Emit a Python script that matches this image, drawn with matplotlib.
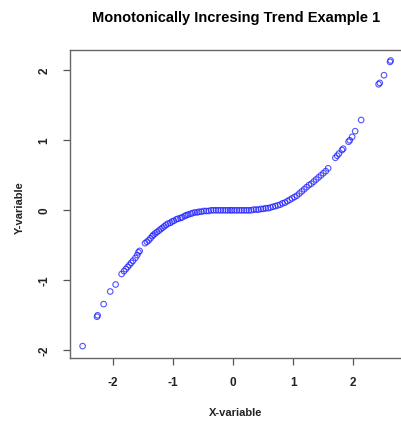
import matplotlib
matplotlib.use("Agg")
import matplotlib.pyplot as plt

# values
x_vals = [-2.51, -2.27, -2.26, -2.16, -2.05, -1.96, -1.86, -1.82, -1.79, -1.76,
          -1.73, -1.70, -1.67, -1.63, -1.60, -1.58, -1.56, -1.47, -1.44, -1.41,
          -1.38, -1.35, -1.33, -1.30, -1.27, -1.24, -1.21, -1.18, -1.15, -1.12,
          -1.09, -1.05, -1.02, -0.99, -0.95, -0.92, -0.88, -0.85, -0.81, -0.78,
          -0.75, -0.71, -0.68, -0.64, -0.60, -0.57, -0.53, -0.49, -0.45, -0.41,
          -0.37, -0.33, -0.29, -0.25, -0.21, -0.17, -0.13, -0.09, -0.05, -0.02,
          0.02, 0.06, 0.10, 0.14, 0.18, 0.22, 0.26, 0.30, 0.34, 0.38,
          0.42, 0.46, 0.50, 0.54, 0.58, 0.62, 0.66, 0.70, 0.74, 0.78,
          0.82, 0.86, 0.90, 0.94, 0.98, 1.02, 1.06, 1.10, 1.14, 1.18,
          1.22, 1.26, 1.30, 1.34, 1.38, 1.42, 1.46, 1.50, 1.54, 1.58,
          1.70, 1.73, 1.76, 1.81, 1.83, 1.92, 1.94, 1.98, 2.03, 2.13,
          2.42, 2.44, 2.51, 2.61, 2.62]
y_vals = [-1.94, -1.52, -1.50, -1.34, -1.16, -1.06, -0.91, -0.87, -0.84, -0.81,
          -0.78, -0.75, -0.72, -0.68, -0.64, -0.60, -0.58, -0.47, -0.45, -0.43,
          -0.40, -0.37, -0.35, -0.33, -0.31, -0.29, -0.27, -0.25, -0.23, -0.21,
          -0.19, -0.18, -0.16, -0.15, -0.13, -0.12, -0.11, -0.10, -0.08, -0.07,
          -0.06, -0.05, -0.04, -0.03, -0.03, -0.02, -0.02, -0.01, -0.01, -0.01,
          0.00, 0.00, 0.00, 0.00, 0.00, 0.00, 0.00, 0.00, 0.00, 0.00,
          0.00, 0.00, 0.00, 0.00, 0.00, 0.00, 0.00, 0.00, 0.01, 0.01,
          0.01, 0.02, 0.02, 0.03, 0.03, 0.04, 0.05, 0.06, 0.07, 0.08,
          0.10, 0.11, 0.13, 0.15, 0.17, 0.19, 0.21, 0.24, 0.27, 0.30,
          0.33, 0.36, 0.38, 0.41, 0.44, 0.47, 0.50, 0.53, 0.56, 0.60,
          0.75, 0.78, 0.81, 0.86, 0.88, 0.98, 1.00, 1.05, 1.13, 1.29,
          1.80, 1.82, 1.93, 2.12, 2.14]
ticks = [-2, -1, 0, 1, 2]

W, H = 401, 425
fig = plt.figure(figsize=(W / 100, H / 100), dpi=100)
plt.rcParams['font.family'] = ['Liberation Sans', 'DejaVu Sans']

# plot box in pixels: left 70, right 405 (cut off), top 50, bottom 358
ax = fig.add_axes([70 / W, (H - 358) / H, 335 / W, 308 / H])
ax.scatter(x_vals, y_vals, s=16, facecolors='none', edgecolors='#1a1aff',
           linewidths=0.8, alpha=0.75)

ax.set_xlim(-2.72, 2.86)
ax.set_ylim(-2.11, 2.29)
ax.set_xticks(ticks)
ax.set_yticks(ticks)
ax.set_xticklabels([str(t) for t in ticks], fontweight='bold')
ax.set_yticklabels([str(t) for t in ticks], rotation=90, va='center',
                   fontweight='bold')
ax.tick_params(axis='both', length=5, width=0.9, color='#555555',
               labelsize=8.5, pad=9, labelcolor='#222222')
for sp in ax.spines.values():
    sp.set_color('#666666')
    sp.set_linewidth(1.0)

fig.text(236 / W, 1 - 18 / H, 'Monotonically Incresing Trend Example 1',
         ha='center', va='center', fontsize=10.5, fontweight='bold')
fig.text(236 / W, 1 - 413 / H, 'X-variable', ha='center', va='center',
         fontsize=8, fontweight='bold', color='#222222')
fig.text(20 / W, 1 - 208 / H, 'Y-variable', ha='center', va='center',
         fontsize=8, fontweight='bold', color='#222222', rotation=90)

fig.savefig('out.png', dpi=100)
